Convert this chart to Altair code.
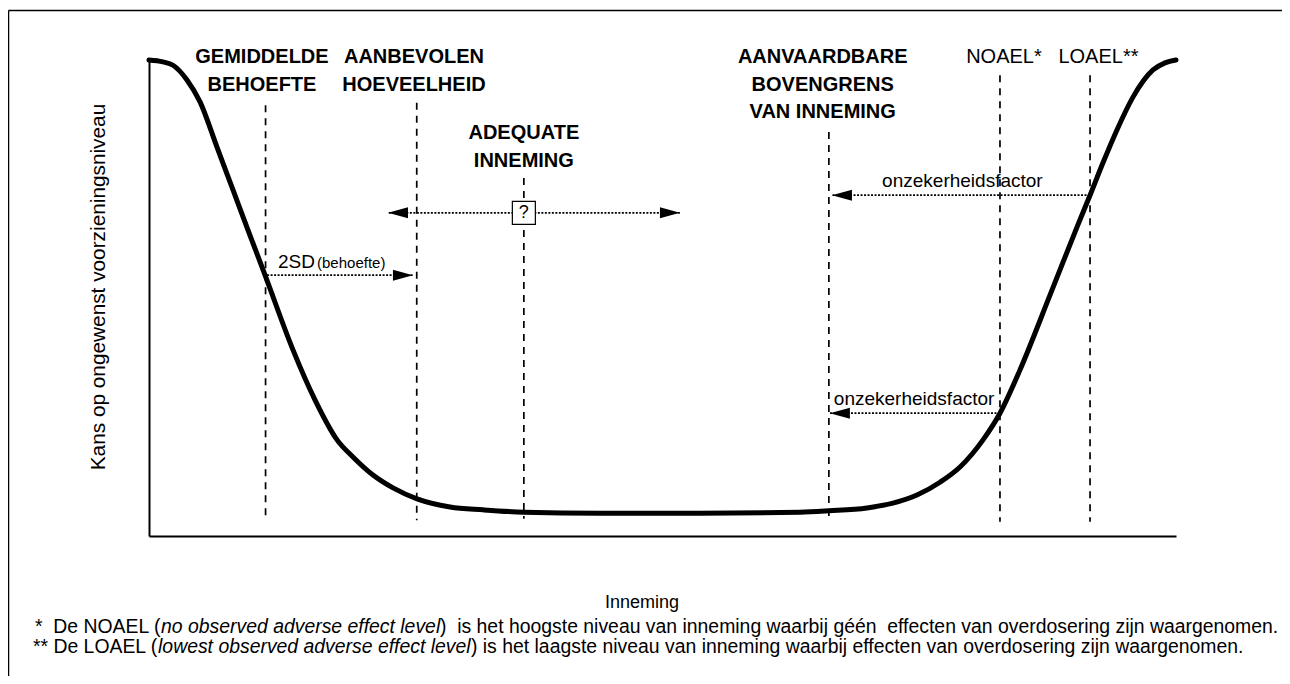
import altair as alt
import pandas as pd

FONT = "Liberation Sans"

# ---- curve: Kans op ongewenst voorzieningsniveau vs Inneming (0-100 units) ----
curve_x = [0, 1.36, 2.34, 3.70, 4.97, 6.62, 8.18, 9.74, 11.30, 14.02,
           16.16, 18.31, 19.86, 21.81, 23.76, 26.10, 29.31, 32.52, 36.51, 43.91,
           53.65, 63.39, 66.21, 69.91, 72.44, 74.78, 77.02, 78.97, 81.21, 82.86,
           84.81, 87.73, 90.36, 91.63, 92.89, 94.25, 95.81, 97.76, 98.93, 100]
curve_y = [100, 99.6, 98.9, 95.8, 91.2, 81.7, 72.7, 63.7, 54.8, 39.1,
           28.6, 20.2, 16.6, 12.8, 10.1, 7.8, 6.1, 5.5, 5.0, 4.8,
           4.8, 5.0, 5.3, 5.9, 6.9, 8.6, 11.3, 14.5, 20.2, 25.8,
           34.9, 50.6, 64.9, 71.6, 78.4, 85.3, 92.2, 97.9, 99.4, 100]

# ---- dashed reference lines ----
ref_x = [11.35, 26.07, 36.5, 66.2, 82.86, 91.63]
ref_top = [90.5, 91.0, 75.2, 84.9, 96.8, 96.8]
ref_bottom = [3.3, 3.3, 3.6, 3.6, 3.0, 3.0]

# ---- header labels ----
lab_text = ["GEMIDDELDE", "BEHOEFTE", "AANBEVOLEN", "HOEVEELHEID", "ADEQUATE", "INNEMING",
            "AANVAARDBARE", "BOVENGRENS", "VAN INNEMING"]
lab_x = [11.0, 11.0, 25.8, 25.8, 36.5, 36.5, 65.6, 65.6, 65.6]
lab_y = [99.47, 93.59, 99.47, 93.59, 83.34, 77.52, 99.47, 93.59, 87.82]
lab2_text = ["NOAEL*", "LOAEL**"]
lab2_x = [83.25, 92.45]
lab2_y = [99.47, 99.47]

# ---- dotted arrows (from, to=tip, level) ----
arr_from = [36.5, 36.5, 11.5, 91.63, 82.86]
arr_tip = [23.27, 51.7, 25.7, 66.5, 66.3]
arr_y = [67.9, 67.9, 54.8, 71.6, 25.8]

# ---- arrow annotations ----
ann_c_text = ["onzekerheidsfactor", "onzekerheidsfactor"]
ann_c_x = [79.2, 74.5]
ann_c_y = [73.4, 27.5]
ann_l_text = ["2SD", "(behoefte)"]
ann_l_x = [12.56, 16.36]
ann_l_y = [56.3, 56.3]
ann_l_fs = [19, 15]

q_x, q_y = [36.5], [67.9]

# ---- footnotes ----
fn_text = ["*\u00a0 De NOAEL (",
           ")\u00a0 is het hoogste niveau van inneming waarbij géén\u00a0 effecten van overdosering zijn waargenomen.",
           "** De LOAEL (",
           ") is het laagste niveau van inneming waarbij effecten van overdosering zijn waargenomen."]
fn_x = [-11.10, 28.33, -11.30, 31.35]
fn_y = [-20.4, -20.4, -24.6, -24.6]
fni_text = ["no observed adverse effect level", "lowest observed adverse effect level"]
fni_x = [1.17, 0.88]
fni_y = [-20.4, -24.6]

xtitle, ytitle = "Inneming", "Kans op ongewenst voorzieningsniveau"

xs = alt.Scale(domain=[0, 100], nice=False, zero=False)
ys = alt.Scale(domain=[0, 100], nice=False, zero=False)
ax = alt.Axis(title=None, labels=False, ticks=False, grid=False,
              domainColor="black", domainWidth=2)


def X(f):
    return alt.X(f, type="quantitative", scale=xs, axis=ax)


def Y(f):
    return alt.Y(f, type="quantitative", scale=ys, axis=ax)


curve = pd.DataFrame({"x": curve_x, "y": curve_y})
refs = pd.DataFrame({"x": ref_x, "y1": ref_top, "y2": ref_bottom})
labs = pd.DataFrame({"t": lab_text, "x": lab_x, "y": lab_y})
labs2 = pd.DataFrame({"t": lab2_text, "x": lab2_x, "y": lab2_y})
arrows = pd.DataFrame({"x1": arr_from, "x2": arr_tip, "y": arr_y})
arrows["dir"] = ["L" if t < f else "R" for f, t in zip(arr_from, arr_tip)]
annc = pd.DataFrame({"t": ann_c_text, "x": ann_c_x, "y": ann_c_y})
annl = pd.DataFrame({"t": ann_l_text, "x": ann_l_x, "y": ann_l_y, "fs": ann_l_fs})
qbox = pd.DataFrame({"x": q_x, "y": q_y, "t": ["?"]})
fn = pd.DataFrame({"t": fn_text, "x": fn_x, "y": fn_y})
fni = pd.DataFrame({"t": fni_text, "x": fni_x, "y": fni_y})
titles_x = pd.DataFrame({"t": [xtitle], "x": [48.0], "y": [-15.1]})
titles_y = pd.DataFrame({"t": [ytitle], "x": [-4.87], "y": [52.3]})

LEFT = "M0,0L2,-0.55L2,0.55Z"
RIGHT = "M0,0L-2,-0.55L-2,0.55Z"

frame_top = alt.Chart(pd.DataFrame({"a": [0]})).mark_rule(color="black", strokeWidth=1.5).encode(
    x=alt.value(-140.5), x2=alt.value(1140), y=alt.value(-49.5))
frame_left = alt.Chart(pd.DataFrame({"a": [0]})).mark_rule(color="black", strokeWidth=1.5).encode(
    x=alt.value(-140.5), y=alt.value(-49.5), y2=alt.value(620))

ref_layer = alt.Chart(refs).mark_rule(color="black", strokeWidth=1.7, strokeDash=[7, 6]).encode(
    x=X("x"), y=Y("y1"), y2=alt.Y2("y2"))

arrow_lines = alt.Chart(arrows).mark_rule(color="black", strokeWidth=1.8, strokeDash=[2, 1.5]).encode(
    x=X("x1"), x2=alt.X2("x2"), y=Y("y"))
heads_l = alt.Chart(arrows).transform_filter("datum.dir == 'L'").mark_point(
    shape=LEFT, size=400, filled=True, color="black", opacity=1).encode(x=X("x2"), y=Y("y"))
heads_r = alt.Chart(arrows).transform_filter("datum.dir == 'R'").mark_point(
    shape=RIGHT, size=400, filled=True, color="black", opacity=1).encode(x=X("x2"), y=Y("y"))

box = alt.Chart(qbox).mark_square(size=529, fill="white", stroke="black", strokeWidth=1.2, opacity=1).encode(
    x=X("x"), y=Y("y"))
qtext = alt.Chart(qbox).mark_text(font=FONT, fontSize=18, baseline="middle", align="center", color="black").encode(
    x=X("x"), y=Y("y"), text="t")

curve_layer = alt.Chart(curve).mark_line(color="black", strokeWidth=5, interpolate="monotone",
                                         strokeCap="round", strokeJoin="round").encode(
    x=X("x"), y=Y("y"))

lab_layer = alt.Chart(labs).mark_text(font=FONT, fontSize=20, fontWeight="bold", align="center",
                                      baseline="alphabetic", color="black").encode(
    x=X("x"), y=Y("y"), text="t")
lab2_layer = alt.Chart(labs2).mark_text(font=FONT, fontSize=20, align="center",
                                        baseline="alphabetic", color="black").encode(
    x=X("x"), y=Y("y"), text="t")
annc_layer = alt.Chart(annc).mark_text(font=FONT, fontSize=19, align="center",
                                       baseline="alphabetic", color="black").encode(
    x=X("x"), y=Y("y"), text="t")
annl_layer = alt.Chart(annl).mark_text(font=FONT, align="left",
                                       baseline="alphabetic", color="black").encode(
    x=X("x"), y=Y("y"), text="t", size=alt.Size("fs:Q", scale=None, legend=None))
fn_layer = alt.Chart(fn).mark_text(font=FONT, fontSize=19.4, align="left",
                                   baseline="alphabetic", color="black").encode(
    x=X("x"), y=Y("y"), text="t")
fni_layer = alt.Chart(fni).mark_text(font=FONT, fontSize=19.4, fontStyle="italic", align="left",
                                     baseline="alphabetic", color="black").encode(
    x=X("x"), y=Y("y"), text="t")
tx_layer = alt.Chart(titles_x).mark_text(font=FONT, fontSize=18, align="center",
                                         baseline="alphabetic", color="black").encode(
    x=X("x"), y=Y("y"), text="t")
ty_layer = alt.Chart(titles_y).mark_text(font=FONT, fontSize=20.8, align="center", angle=270,
                                         baseline="middle", color="black").encode(
    x=X("x"), y=Y("y"), text="t")

chart = alt.layer(
    frame_top, frame_left, ref_layer, arrow_lines, heads_l, heads_r, box, qtext,
    curve_layer, lab_layer, lab2_layer, annc_layer, annl_layer, fn_layer, fni_layer,
    tx_layer, ty_layer
).properties(
    width=1027, height=476,
    padding={"left": 141, "top": 52, "right": 106, "bottom": 140},
    autosize=alt.AutoSizeParams(type="none"),
    background="white",
).configure_view(stroke=None)

chart.save("out.html", embed_options={"renderer": "svg", "actions": False})
